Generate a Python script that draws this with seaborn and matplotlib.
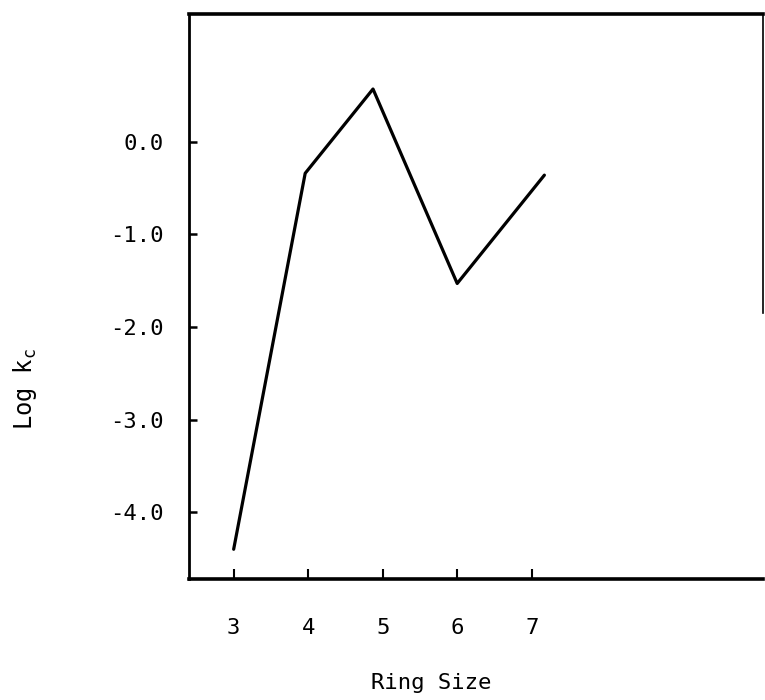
import matplotlib
matplotlib.use("Agg")
import matplotlib.pyplot as plt
import seaborn as sns
import pandas as pd

ring_size = [3.0, 3.96, 4.87, 6.0, 7.17]
log_kc = [-4.40, -0.34, 0.57, -1.53, -0.36]
x_ticks = [3, 4, 5, 6, 7]
y_ticks = [0.0, -1.0, -2.0, -3.0, -4.0]
y_tick_labels = ["0.0", "-1.0", "-2.0", "-3.0", "-4.0"]

sns.set_style("ticks")
plt.rcParams['font.family'] = ['DejaVu Sans Mono', 'DejaVu Sans']

df = pd.DataFrame({"Ring Size": ring_size, "Log kc": log_kc})

fig = plt.figure(figsize=(7.65, 7.0), dpi=100)
ax = fig.add_axes([0.247, 0.173, 0.75, 0.807])

sns.lineplot(data=df, x="Ring Size", y="Log kc", ax=ax, color="black",
             linewidth=2.3, sort=False, estimator=None)

ax.set_xlim(2.40, 10.10)
ax.set_ylim(-4.72, 1.38)
ax.set_xticks(x_ticks)
ax.set_xticklabels([str(t) for t in x_ticks])
ax.set_yticks(y_ticks)
ax.set_yticklabels(y_tick_labels)

ax.tick_params(axis='x', direction='in', length=7, width=1.5, pad=28,
               labelsize=16, colors='black')
ax.tick_params(axis='y', direction='in', length=6, width=1.8, pad=18,
               labelsize=16, colors='black')

for side in ['top', 'bottom']:
    ax.spines[side].set_linewidth(2.6)
ax.spines['left'].set_linewidth(2.0)
ax.spines['right'].set_linewidth(1.2)
ax.spines['right'].set_bounds(-1.85, 1.38)
for s in ax.spines.values():
    s.set_color('black')

ax.set_xlabel("Ring Size", fontsize=16, color='black')
ax.xaxis.set_label_coords(0.423, -0.184)
ax.xaxis.label.set_va('center')
ax.set_ylabel("Log k$_\\mathregular{c}$", fontsize=17, color='black')
ax.yaxis.set_label_coords(-0.286, 0.336)
ax.yaxis.label.set_va('center')

fig.savefig("out.png", dpi=100)
